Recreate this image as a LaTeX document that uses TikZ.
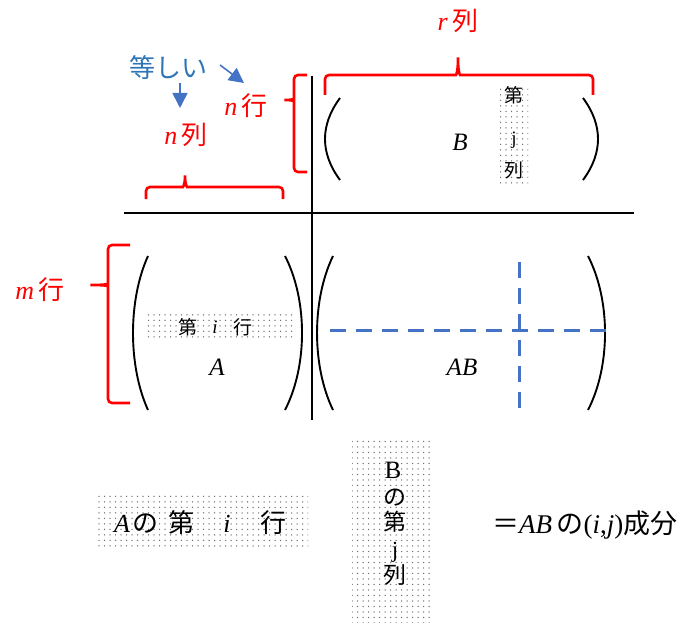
\documentclass[tikz,border=0pt]{standalone}
\usepackage{fontspec}
\setmainfont{Liberation Serif}
\newfontfamily\jp{Noto Sans CJK JP}
\usetikzlibrary{patterns.meta,arrows.meta}
\definecolor{dashblue}{HTML}{4472C4}
\definecolor{textblue}{HTML}{2E75B6}
\begin{document}
\begin{tikzpicture}[x=1pt,y=-1pt,
  axis/.style={line width=2.8pt},
  rbr/.style={draw=red, line width=2.6pt, rounded corners=4pt},
  paren/.style={line width=1.9pt},
  bdash/.style={draw=dashblue, line width=3pt, dash pattern=on 16pt off 10pt},
  barrow/.style={draw=dashblue, line width=1.6pt, -{Triangle[width=15pt,length=15pt]}},
  dotbox/.style={pattern={Dots[radius=0.75pt,distance=5.5pt]}, pattern color=black!55, inner sep=0pt},
  redlab/.style={text=red, font=\fontsize{26}{28}\selectfont, inner sep=0pt},
  bluelab/.style={text=textblue, font=\fontsize{26}{28}\selectfont\jp, inner sep=0pt},
  mlab/.style={font=\fontsize{25}{28}\selectfont\itshape, inner sep=0pt},
  smallch/.style={font=\fontsize{19}{20}\selectfont, inner sep=0pt},
  bigch/.style={font=\fontsize{26}{28}\selectfont, inner sep=0pt, anchor=base},
  vch/.style={font=\fontsize{23}{26}\selectfont, inner sep=0pt}
]
\useasboundingbox (0,0) rectangle (685,623);

% axes
\coordinate (vtop) at (312,76);
\coordinate (vbot) at (312,420);
\coordinate (hl) at (124,213);
\coordinate (hr) at (634,213);
\draw[axis] (vtop) -- (vbot);
\draw[axis] (hl) -- (hr);

% labels
\node[bluelab] (eq) at (168,68) {等しい};
\node[redlab] (nrow) at (246,106) {\textit{n}\,{\jp 行}};
\node[redlab] (ncol) at (186,135) {\textit{n}\,{\jp 列}};
\node[redlab] (rcol) at (458,21) {\textit{r}\,{\jp 列}};
\node[redlab] (mrow) at (40,290) {\textit{m}\,{\jp 行}};

% arrows
\coordinate (a1s) at (180,83);
\coordinate (a1e) at (180,108);
\coordinate (a2s) at (220,65);
\coordinate (a2e) at (244,83);
\draw[barrow] (a1s) -- (a1e);
\draw[barrow] (a2s) -- (a2e);

% braces
\draw[rbr] (307,75) -- (294,75) -- (294,95) .. controls (294,99) and (290,100) .. (282,100) .. controls (290,100) and (294,101) .. (294,105) -- (294,172) -- (307,172);
\draw[rbr] (325,95) -- (325,75) -- (452,75) .. controls (456,75) and (458,72) .. (458,55) .. controls (458,72) and (460,75) .. (464,75) -- (593,75) -- (593,95);
\draw[rbr] (146,199) -- (146,187) -- (179,187) .. controls (183,187) and (185,184) .. (185,173) .. controls (185,184) and (187,187) .. (191,187) -- (283,187) -- (283,199);
\draw[rbr] (130,245) -- (108,245) -- (108,280) .. controls (108,284) and (104,285) .. (88,285) .. controls (104,285) and (108,286) .. (108,290) -- (108,403) -- (130,403);

% parentheses
\draw[paren] (340,98) .. controls (320,125) and (320,153) .. (340,180);
\draw[paren] (583,98) .. controls (603,125) and (603,153) .. (583,180);
\draw[paren] (148,256) .. controls (128,300) and (128,366) .. (148,410);
\draw[paren] (285,256) .. controls (307.7,300) and (307.7,366) .. (285,410);
\draw[paren] (333,256) .. controls (311.7,300) and (311.7,366) .. (333,410);
\draw[paren] (588,256) .. controls (610.7,300) and (610.7,366) .. (588,410);

% B matrix
\node[mlab] (B) at (460,142) {B};
\node[dotbox, minimum width=28pt, minimum height=98pt] (bcol) at (514,135) {};
\node[smallch] (bc1) at (514,95) {\jp 第};
\node[smallch] (bc2) at (514,140) {j};
\node[smallch] (bc3) at (514,170) {\jp 列};

% A matrix
\node[dotbox, minimum width=150pt, minimum height=27pt] (arow) at (220,326.5) {};
\node[smallch] (ar1) at (188,327) {\jp 第};
\node[smallch] (ar2) at (215,327) {\itshape i};
\node[smallch] (ar3) at (243,327) {\jp 行};
\node[mlab] (A) at (217,367) {A};

% AB
\node[mlab] (AB) at (462,367) {AB};
\coordinate (hd1) at (330,330);
\coordinate (hd2) at (616,330);
\coordinate (vd1) at (519,262);
\coordinate (vd2) at (519,418);
\draw[bdash] (hd1) -- (hd2);
\draw[bdash] (vd1) -- (vd2);

% bottom
\node[dotbox, minimum width=213pt, minimum height=53pt] (rowbox) at (201.5,519.5) {};
\node[bigch] (t1) at (122,532) {\itshape A};
\node[bigch] (t2) at (145,532) {\jp の};
\node[bigch] (t3) at (181,532) {\jp 第};
\node[bigch] (t4) at (227,532) {\itshape i};
\node[bigch] (t5) at (273,532) {\jp 行};

\node[dotbox, minimum width=79pt, minimum height=182pt] (colbox) at (391.5,531) {};
\node[vch, font=\fontsize{25}{26}\selectfont] (v1) at (393,470) {B};
\node[vch] (v2) at (395,498) {\jp の};
\node[vch] (v3) at (395,522) {\jp 第};
\node[vch] (v4) at (395,552) {j};
\node[vch] (v5) at (395,575) {\jp 列};

\node[font=\fontsize{27}{30}\selectfont, inner sep=0pt, anchor=base west] (res) at (492,533) {{\jp ＝}\textit{AB}\,{\jp の}(\textit{i},\textit{j}){\jp 成分}};
\end{tikzpicture}
\end{document}
